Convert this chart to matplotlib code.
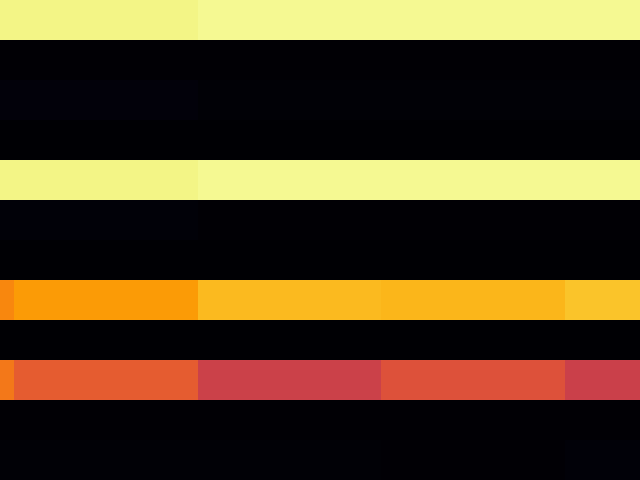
import numpy as np
import matplotlib
matplotlib.use("Agg")
import matplotlib.pyplot as plt

rows = list(range(12))
cols = list(range(5))
values = np.array([
    [0.968, 0.968, 0.980, 0.980, 0.980],
    [0.006, 0.006, 0.004, 0.004, 0.004],
    [0.016, 0.016, 0.010, 0.010, 0.010],
    [0.000, 0.000, 0.000, 0.000, 0.000],
    [0.968, 0.968, 0.980, 0.980, 0.980],
    [0.015, 0.015, 0.007, 0.007, 0.007],
    [0.002, 0.002, 0.002, 0.002, 0.002],
    [0.735, 0.780, 0.840, 0.835, 0.860],
    [0.000, 0.000, 0.000, 0.000, 0.000],
    [0.700, 0.630, 0.545, 0.600, 0.540],
    [0.005, 0.005, 0.005, 0.004, 0.004],
    [0.008, 0.008, 0.008, 0.007, 0.015],
])

fig = plt.figure(figsize=(6.4, 4.8), dpi=100)
ax = fig.add_axes([0, 0, 1, 1])
ax.pcolormesh(np.arange(len(cols) + 1), np.arange(len(rows) + 1), values,
              cmap="inferno", vmin=0, vmax=1, shading="flat")
ax.set_xlim(1 - 14 / 183.5, 1 + 626 / 183.5)
ax.set_ylim(len(rows), 0)
ax.axis("off")
fig.savefig("out.png", dpi=100)
